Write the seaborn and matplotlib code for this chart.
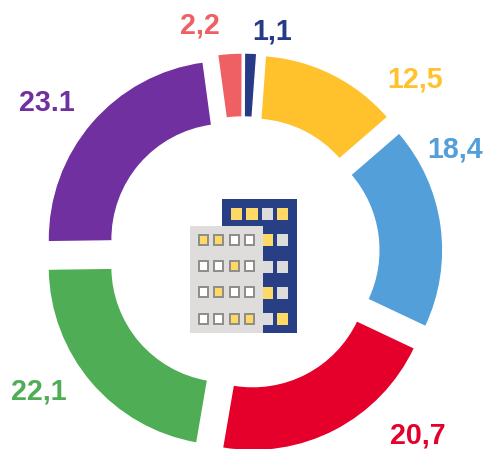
import matplotlib
matplotlib.use('Agg')
import matplotlib.pyplot as plt
import seaborn as sns
from matplotlib.patches import Rectangle

# shares, clockwise from the top
values = [1.1, 12.5, 18.4, 20.7, 22.1, 23.1, 2.2]
labels = ['1,1', '12,5', '18,4', '20,7', '22,1', '23.1', '2,2']
colors = ['#263a85', '#ffc12c', '#529fd9', '#e4002b', '#4fae55', '#7030a0', '#ee6064']
label_xy = [(272, 32), (415, 79), (455, 149), (418, 435), (39, 392), (47, 103), (200, 26)]

# window colours of the building icon
Y, G, W = '#ffd966', '#dcdcdc', '#ffffff'
back_windows = [[Y, Y, G, Y], [None, None, Y, G], [None, None, G, G], [None, None, Y, G], [None, None, G, Y]]
front_windows = [[Y, Y, W, W], [W, W, Y, W], [W, Y, W, W], [W, W, Y, Y]]

W_PX, H_PX = 487, 449
CX, CY = 243, 253
RADIUS = 179

sns.set_theme(style='white')
plt.rcParams['font.family'] = ['Liberation Sans', 'DejaVu Sans']

fig = plt.figure(figsize=(W_PX / 100, H_PX / 100), dpi=100)
ax = fig.add_axes([0, 0, 1, 1])
# every slice is pulled out by the same amount, that gives the gaps (explode is in data units here)
ax.pie(values, colors=sns.color_palette(colors), startangle=89.8, counterclock=False,
       explode=[21] * len(values), center=(CX, H_PX - CY), radius=RADIUS,
       wedgeprops=dict(width=64, edgecolor='white', linewidth=1))

ax.set_xlim(0, W_PX)
ax.set_ylim(0, H_PX)
ax.set_aspect('equal')
ax.axis('off')

for lab, (x, y), c in zip(labels, label_xy, colors):
    ax.text(x, H_PX - y, lab, color=c, fontsize=20.6, fontweight='bold', ha='center', va='center')


def box(x0, y0, x1, y1, face, edge=None, lw=0, z=4):
    ax.add_patch(Rectangle((x0, H_PX - y1), x1 - x0, y1 - y0, facecolor=face, edgecolor=edge or face,
                           linewidth=lw, zorder=z))


# building icon
box(222, 199, 297, 333, '#283f86')
back_cols = [(231, 242), (246, 258), (262, 273), (277, 288)]
back_rows = [(208, 220), (234, 246), (261, 273), (287, 299), (313, 325)]
for (y0, y1), row in zip(back_rows, back_windows):
    for (x0, x1), c in zip(back_cols, row):
        if c:
            box(x0, y0, x1, y1, c, z=5)

box(190, 226, 263, 333, '#dedddb', z=6)
front_cols = [(199, 208), (214, 223), (230, 239), (245, 254)]
front_rows = [(235, 245), (261, 271), (287, 297), (314, 324)]
for (y0, y1), row in zip(front_rows, front_windows):
    for (x0, x1), c in zip(front_cols, row):
        box(x0, y0, x1, y1, c, edge='#8c8c88', lw=1.4, z=7)

plt.savefig('out.png', dpi=100)
